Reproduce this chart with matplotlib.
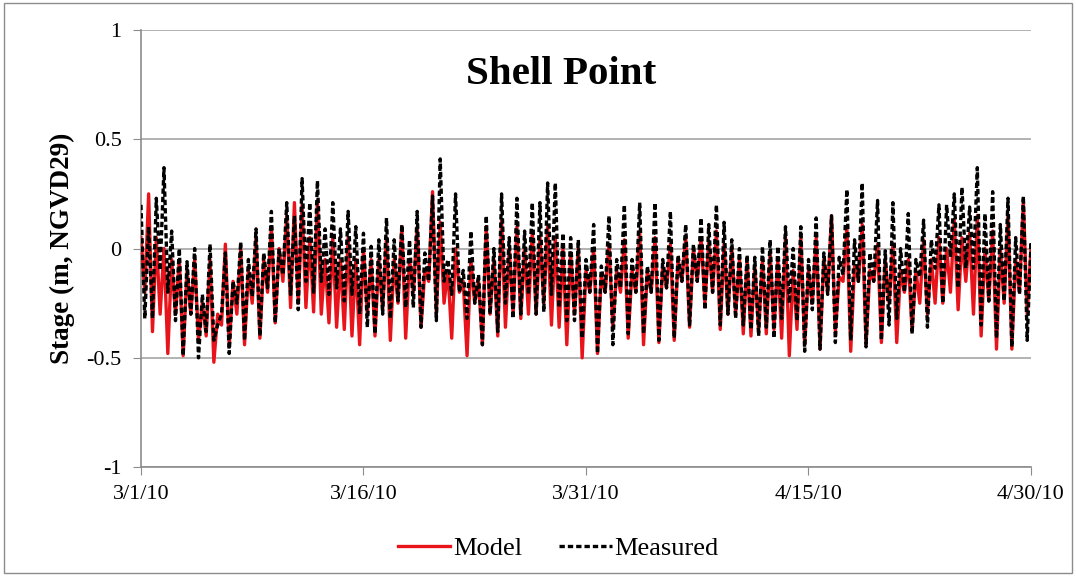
import numpy as np
import pandas as pd
import matplotlib
matplotlib.use("Agg")
import matplotlib.pyplot as plt
from matplotlib.patches import Rectangle

# high / low water per tidal cycle (m, NGVD29)
measured_high = [0.20, 0.10, 0.23, 0.37, 0.08, 0.00, -0.06, 0.00, -0.21, 0.02,
                 -0.35, -0.02, -0.15, 0.03, -0.05, 0.09, -0.02, 0.17, 0.00, 0.21,
                 0.15, 0.32, 0.21, 0.31, 0.09, 0.21, 0.09, 0.17, 0.10, 0.07,
                 0.01, 0.04, 0.14, 0.04, 0.11, 0.04, 0.17, -0.02, 0.24, 0.41,
                 -0.05, 0.25, -0.10, 0.08, -0.12, 0.15, 0.00, 0.25, 0.05, 0.23,
                 0.08, 0.21, 0.21, 0.30, 0.30, 0.07, 0.05, 0.04, -0.05, 0.11,
                 -0.08, 0.15, -0.05, 0.20, -0.05, 0.21, -0.08, 0.21, -0.05, 0.17,
                 -0.03, 0.11, 0.02, 0.14, 0.11, 0.20, 0.12, 0.04, 0.00, -0.03,
                 -0.04, 0.01, 0.04, 0.01, 0.10, 0.00, 0.10, -0.05, 0.14, -0.02,
                 0.15, -0.04, 0.27, 0.04, 0.30, -0.02, 0.22, -0.01, 0.21, 0.00,
                 0.16, -0.05, 0.13, 0.04, 0.20, 0.20, 0.25, 0.28, 0.19, 0.37,
                 0.16, 0.26, 0.11, 0.23, 0.05, 0.24, 0.03]
measured_low = [-0.32, -0.32, -0.10, -0.20, -0.33, -0.49, -0.30, -0.50, -0.38, -0.42,
                -0.30, -0.48, -0.25, -0.42, -0.22, -0.40, -0.18, -0.34, -0.12, -0.21,
                -0.28, -0.15, -0.20, -0.15, -0.21, -0.18, -0.24, -0.21, -0.30, -0.36,
                -0.39, -0.30, -0.32, -0.24, -0.27, -0.27, -0.36, -0.15, -0.33, -0.15,
                -0.21, -0.20, -0.32, -0.25, -0.44, -0.30, -0.38, -0.25, -0.32, -0.30,
                -0.21, -0.30, -0.29, -0.21, -0.27, -0.33, -0.33, -0.41, -0.20, -0.48,
                -0.20, -0.44, -0.18, -0.39, -0.20, -0.39, -0.20, -0.42, -0.18, -0.41,
                -0.15, -0.35, -0.15, -0.28, -0.20, -0.35, -0.30, -0.32, -0.35, -0.37,
                -0.40, -0.36, -0.41, -0.32, -0.25, -0.33, -0.47, -0.28, -0.46, -0.21,
                -0.43, -0.12, -0.42, -0.15, -0.45, -0.15, -0.42, -0.35, -0.32, -0.20,
                -0.39, -0.13, -0.36, -0.09, -0.25, -0.04, -0.18, -0.09, -0.09, -0.35,
                -0.24, -0.41, -0.24, -0.45, -0.21, -0.42, -0.40]
model_high = [0.05, 0.25, 0.05, 0.00, -0.05, -0.05, -0.10, -0.05, -0.25, -0.05,
              -0.30, 0.02, -0.15, 0.00, -0.10, 0.05, -0.05, 0.10, 0.00, 0.15,
              0.21, 0.20, 0.05, 0.22, -0.05, 0.05, -0.05, 0.05, -0.05, 0.00,
              -0.05, -0.05, 0.05, -0.05, 0.10, -0.05, 0.10, -0.10, 0.26, 0.12,
              -0.10, 0.00, -0.15, -0.05, -0.15, 0.10, -0.05, 0.13, 0.00, 0.10,
              0.00, 0.08, 0.05, 0.10, 0.05, 0.00, -0.02, 0.00, -0.10, 0.00,
              -0.12, 0.02, -0.10, 0.04, -0.10, 0.08, -0.10, 0.05, -0.08, 0.02,
              -0.05, 0.05, 0.00, 0.05, 0.03, 0.08, 0.02, 0.00, -0.05, -0.05,
              -0.08, -0.05, -0.02, -0.05, 0.05, -0.10, 0.05, -0.10, 0.05, -0.05,
              0.15, -0.13, 0.10, -0.08, 0.11, -0.10, 0.02, -0.05, 0.02, -0.10,
              -0.05, -0.10, 0.04, -0.05, 0.05, 0.00, 0.13, 0.05, 0.07, 0.15,
              0.00, 0.08, 0.00, 0.15, -0.05, 0.22, 0.00]
model_low = [-0.20, -0.38, -0.30, -0.48, -0.30, -0.49, -0.30, -0.42, -0.40, -0.52,
             -0.35, -0.45, -0.30, -0.44, -0.25, -0.41, -0.20, -0.34, -0.15, -0.27,
             -0.25, -0.27, -0.29, -0.30, -0.34, -0.36, -0.37, -0.40, -0.44, -0.30,
             -0.40, -0.28, -0.42, -0.25, -0.41, -0.20, -0.36, -0.15, -0.30, -0.25,
             -0.41, -0.20, -0.49, -0.25, -0.44, -0.30, -0.40, -0.36, -0.30, -0.32,
             -0.30, -0.30, -0.25, -0.35, -0.36, -0.44, -0.30, -0.50, -0.20, -0.48,
             -0.20, -0.36, -0.20, -0.41, -0.20, -0.44, -0.20, -0.43, -0.18, -0.42,
             -0.15, -0.36, -0.15, -0.25, -0.20, -0.37, -0.30, -0.30, -0.39, -0.40,
             -0.38, -0.39, -0.37, -0.41, -0.49, -0.37, -0.44, -0.25, -0.46, -0.20,
             -0.38, -0.15, -0.47, -0.15, -0.44, -0.15, -0.43, -0.25, -0.43, -0.20,
             -0.38, -0.25, -0.30, -0.25, -0.25, -0.20, -0.28, -0.15, -0.30, -0.40,
             -0.24, -0.46, -0.25, -0.46, -0.20, -0.30, -0.35]

tick_dates = ["2010-03-01", "2010-03-16", "2010-03-31", "2010-04-15", "2010-04-30"]
tick_labels = ["3/1/10", "3/16/10", "3/31/10", "4/15/10", "4/30/10"]

# times of high water (12.42 h apart), low water half a cycle later
t_high = pd.date_range("2010-03-01", periods=len(measured_high), freq="745min")
t_low = t_high + pd.Timedelta(minutes=373)
t = np.empty(2 * len(t_high), dtype="datetime64[ns]")
t[0::2] = t_high.values
t[1::2] = t_low.values

def interleave(hi, lo):
    out = np.empty(2 * len(hi))
    out[0::2] = hi
    out[1::2] = lo
    return out

meas = interleave(measured_high, measured_low)
mod = interleave(model_high, model_low)

plt.rcParams["font.family"] = ["Liberation Serif", "DejaVu Serif"]

fig = plt.figure(figsize=(10.76, 5.76), dpi=100)
ax = fig.add_axes([0.131, 0.189, 0.827, 0.759])

ax.plot(t, mod, color="#e8141b", lw=2.4, label="Model", zorder=3)
ax.plot(t, meas, color="black", lw=2.4, ls=(0, (1.6, 0.9)), label="Measured", zorder=4)

ax.set_xlim(pd.Timestamp(tick_dates[0]), pd.Timestamp(tick_dates[-1]))
ax.set_ylim(-1, 1)
ax.set_yticks([-1, -0.5, 0, 0.5, 1])
ax.set_yticklabels(["-1", "-0.5", "0", "0.5", "1"])
ax.set_xticks([pd.Timestamp(d) for d in tick_dates])
ax.set_xticklabels(tick_labels)
ax.tick_params(axis="both", labelsize=16, color="#8c8c8c", length=6, direction="out")
ax.tick_params(axis="x", pad=7)
ax.tick_params(axis="y", pad=8)

ax.grid(axis="y", color="#a6a6a6", lw=1.2)
ax.set_axisbelow(True)
for s in ["top", "right"]:
    ax.spines[s].set_visible(False)
for s in ["left", "bottom"]:
    ax.spines[s].set_color("#8c8c8c")
    ax.spines[s].set_linewidth(1.2)

ax.set_ylabel("Stage (m, NGVD29)", fontsize=19.5, fontweight="bold", labelpad=8)
ax.text(0.472, 0.897, "Shell Point", transform=ax.transAxes, ha="center", va="center",
        fontsize=29.5, fontweight="bold")

ax.legend(loc="center", bbox_to_anchor=(0.469, -0.185), ncol=2, frameon=False, fontsize=19,
          handlelength=2.0, handletextpad=0.1, columnspacing=1.4)

fig.patches.append(Rectangle((0.004, 0.006), 0.992, 0.988, transform=fig.transFigure,
                             fill=False, edgecolor="#8c8c8c", lw=1))

fig.savefig("out.png", dpi=100)
